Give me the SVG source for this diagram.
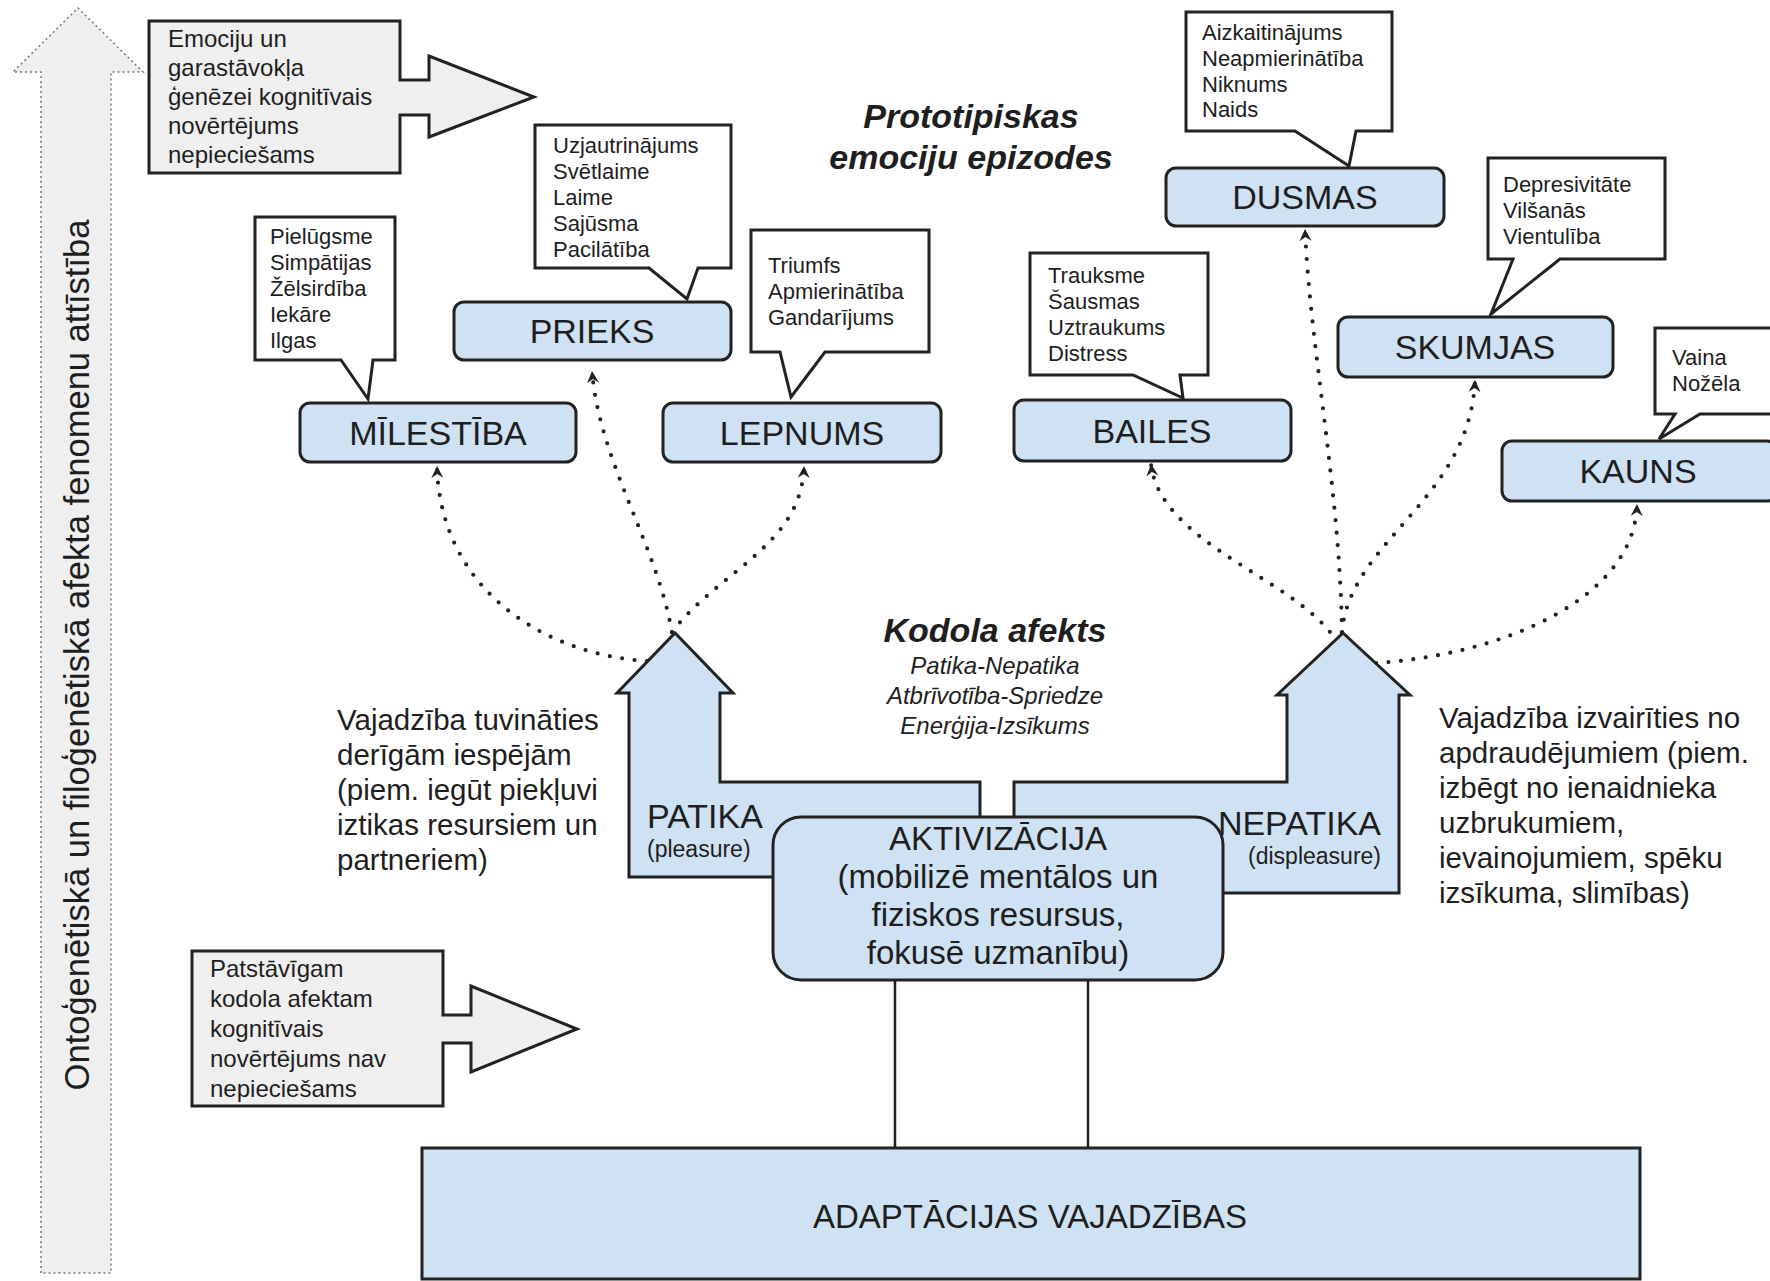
<svg xmlns="http://www.w3.org/2000/svg" width="1770" height="1281" viewBox="0 0 1770 1281">
<style>
text{font-family:"Liberation Sans",Arial,sans-serif;fill:#1e1e1e}
.nb{fill:#cfe2f3;stroke:#222;stroke-width:3}
.lbl{font-size:34px;text-anchor:middle}
.call{fill:#fff;stroke:#222;stroke-width:3}
.ct{font-size:22px}
.gray{fill:#efefef;stroke:#222;stroke-width:3}
.gt{font-size:24px}
.dot{fill:none;stroke:#222;stroke-width:4.2;stroke-linecap:round;stroke-dasharray:0 12.5}
.big{font-size:29.5px}
.bi{font-weight:bold;font-style:italic;font-size:34px;text-anchor:middle}
.it{font-style:italic;font-size:24px;text-anchor:middle}
.ln{stroke:#222;stroke-width:2.5;fill:none}
</style>
<defs>
<marker id="ah" viewBox="0 -7 13 14" refX="12" refY="0" markerWidth="13" markerHeight="14" orient="auto" markerUnits="userSpaceOnUse">
<path d="M0,-6 L12,0 L0,6 L4,0 Z" fill="#222"/>
</marker>
</defs>
<rect x="0" y="0" width="1770" height="1281" fill="#fff"/>

<g id="development-arrow">
<path d="M41 1273 L41 72 L13 72 L78 8 L143 72 L111 72 L111 1273 Z" fill="#efefef" stroke="#777" stroke-width="1.5" stroke-dasharray="2 3"/>
<text transform="translate(89 655) rotate(-90)" font-size="34.5" text-anchor="middle">Ontoģenētiskā un filoģenētiskā afekta fenomenu attīstība</text>
</g>

<g id="note-top">
<path class="gray" d="M149 21 H400 V80 H429 V56 L534 97 L429 137 V115 H400 V173 H149 Z"/>
<text class="gt" x="168" y="47">Emociju un</text>
<text class="gt" x="168" y="76">garastāvokļa</text>
<text class="gt" x="168" y="105">ģenēzei kognitīvais</text>
<text class="gt" x="168" y="134">novērtējums</text>
<text class="gt" x="168" y="163">nepieciešams</text>
</g>

<g id="note-bottom">
<path class="gray" d="M192 951 H443 V1015 H471 V986 L577 1029 L471 1072 V1043 H443 V1106 H192 Z"/>
<text class="gt" x="210" y="977">Patstāvīgam</text>
<text class="gt" x="210" y="1007">kodola afektam</text>
<text class="gt" x="210" y="1037">kognitīvais</text>
<text class="gt" x="210" y="1067">novērtējums nav</text>
<text class="gt" x="210" y="1097">nepieciešams</text>
</g>

<g id="title-prototipiskas">
<text class="bi" x="971" y="128">Prototipiskas</text>
<text class="bi" x="971" y="169">emociju epizodes</text>
</g>

<g id="title-kodola">
<text class="bi" x="995" y="642">Kodola afekts</text>
<text class="it" x="995" y="674">Patika-Nepatika</text>
<text class="it" x="995" y="704">Atbrīvotība-Spriedze</text>
<text class="it" x="995" y="734">Enerģija-Izsīkums</text>
</g>

<g id="callout-milestiba">
<path class="call" d="M255 217 H395 V360 H373 L368 399 L341 360 H255 Z"/>
<text class="ct" x="270" y="244">Pielūgsme</text>
<text class="ct" x="270" y="270">Simpātijas</text>
<text class="ct" x="270" y="296">Žēlsirdība</text>
<text class="ct" x="270" y="322">Iekāre</text>
<text class="ct" x="270" y="348">Ilgas</text>
</g>
<g id="callout-prieks">
<path class="call" d="M535 125 H731 V268 H698 L687 299 L649 268 H535 Z"/>
<text class="ct" x="553" y="153">Uzjautrinājums</text>
<text class="ct" x="553" y="179">Svētlaime</text>
<text class="ct" x="553" y="205">Laime</text>
<text class="ct" x="553" y="231">Sajūsma</text>
<text class="ct" x="553" y="257">Pacilātība</text>
</g>
<g id="callout-lepnums">
<path class="call" d="M751 230 H929 V352 H825 L791 397 L780 352 H751 Z"/>
<text class="ct" x="768" y="273">Triumfs</text>
<text class="ct" x="768" y="299">Apmierinātība</text>
<text class="ct" x="768" y="325">Gandarījums</text>
</g>
<g id="callout-bailes">
<path class="call" d="M1030 253 H1208 V375 H1180 L1183 398 L1133 375 H1030 Z"/>
<text class="ct" x="1048" y="283">Trauksme</text>
<text class="ct" x="1048" y="309">Šausmas</text>
<text class="ct" x="1048" y="335">Uztraukums</text>
<text class="ct" x="1048" y="361">Distress</text>
</g>
<g id="callout-dusmas">
<path class="call" d="M1186 12 H1392 V131 H1356 L1349 166 L1295 131 H1186 Z"/>
<text class="ct" x="1202" y="40">Aizkaitinājums</text>
<text class="ct" x="1202" y="66">Neapmierinātība</text>
<text class="ct" x="1202" y="92">Niknums</text>
<text class="ct" x="1202" y="117">Naids</text>
</g>
<g id="callout-skumjas">
<path class="call" d="M1488 158 H1665 V259 H1560 L1491 314 L1513 259 H1488 Z"/>
<text class="ct" x="1503" y="192">Depresivitāte</text>
<text class="ct" x="1503" y="218">Vilšanās</text>
<text class="ct" x="1503" y="244">Vientulība</text>
</g>
<g id="callout-kauns">
<path class="call" d="M1655 328 H1790 V414 H1700 L1659 439 L1675 414 H1655 Z"/>
<text class="ct" x="1672" y="365">Vaina</text>
<text class="ct" x="1672" y="391">Nožēla</text>
</g>

<g id="node-milestiba"><rect class="nb" x="300" y="403" width="276" height="59" rx="10"/><text class="lbl" x="438" y="445">MĪLESTĪBA</text></g>
<g id="node-prieks"><rect class="nb" x="454" y="302" width="277" height="58" rx="10"/><text class="lbl" x="592" y="343">PRIEKS</text></g>
<g id="node-lepnums"><rect class="nb" x="663" y="403" width="278" height="59" rx="10"/><text class="lbl" x="802" y="445">LEPNUMS</text></g>
<g id="node-bailes"><rect class="nb" x="1014" y="400" width="277" height="61" rx="10"/><text class="lbl" x="1152" y="443">BAILES</text></g>
<g id="node-dusmas"><rect class="nb" x="1166" y="168" width="278" height="58" rx="10"/><text class="lbl" x="1305" y="209">DUSMAS</text></g>
<g id="node-skumjas"><rect class="nb" x="1338" y="317" width="275" height="60" rx="10"/><text class="lbl" x="1475" y="359">SKUMJAS</text></g>
<g id="node-kauns"><rect class="nb" x="1502" y="441" width="275" height="60" rx="10"/><text class="lbl" x="1638" y="483">KAUNS</text></g>

<g id="connectors">
<path class="dot" marker-end="url(#ah)" d="M647 661 C545 655 440 590 437 466"/>
<path class="dot" marker-end="url(#ah)" d="M675 657 C668 560 600 470 592 371"/>
<path class="dot" marker-end="url(#ah)" d="M672 632 C720 570 802 545 804 466"/>
<path class="dot" marker-end="url(#ah)" d="M1337 642 C1300 580 1160 545 1151 464"/>
<path class="dot" marker-end="url(#ah)" d="M1342 645 C1342 500 1310 350 1305 229"/>
<path class="dot" marker-end="url(#ah)" d="M1342 632 C1350 540 1470 500 1475 380"/>
<path class="dot" marker-end="url(#ah)" d="M1376 663 C1500 655 1635 600 1637 504"/>
<line class="ln" x1="895" y1="980" x2="895" y2="1148"/>
<line class="ln" x1="1088" y1="980" x2="1088" y2="1148"/>
</g>

<g id="node-patika">
<path class="nb" d="M629 877 V693 H617 L675 633 L733 693 H720 V782 H980 V877 Z" stroke-linejoin="miter"/>
<text x="647" y="828" font-size="34">PATIKA</text>
<text x="647" y="857" font-size="23">(pleasure)</text>
</g>
<g id="node-nepatika">
<path class="nb" d="M1399 893 V695 H1410 L1343 633 L1277 695 H1287 V782 H1014 V893 Z" stroke-linejoin="miter"/>
<text x="1381" y="835" font-size="34" text-anchor="end">NEPATIKA</text>
<text x="1381" y="864" font-size="23" text-anchor="end">(displeasure)</text>
</g>

<g id="node-aktivizacija">
<rect class="nb" x="773" y="817" width="450" height="163" rx="28"/>
<text x="998" y="850" font-size="33" text-anchor="middle">AKTIVIZĀCIJA</text>
<text x="998" y="888" font-size="33" text-anchor="middle">(mobilizē mentālos un</text>
<text x="998" y="926" font-size="33" text-anchor="middle">fiziskos resursus,</text>
<text x="998" y="964" font-size="33" text-anchor="middle">fokusē uzmanību)</text>
</g>

<g id="text-left">
<text class="big" x="337" y="730">Vajadzība tuvināties</text>
<text class="big" x="337" y="765">derīgām iespējām</text>
<text class="big" x="337" y="800">(piem. iegūt piekļuvi</text>
<text class="big" x="337" y="835">iztikas resursiem un</text>
<text class="big" x="337" y="870">partneriem)</text>
</g>
<g id="text-right">
<text class="big" x="1439" y="728">Vajadzība izvairīties no</text>
<text class="big" x="1439" y="763">apdraudējumiem (piem.</text>
<text class="big" x="1439" y="798">izbēgt no ienaidnieka</text>
<text class="big" x="1439" y="833">uzbrukumiem,</text>
<text class="big" x="1439" y="868">ievainojumiem, spēku</text>
<text class="big" x="1439" y="903">izsīkuma, slimības)</text>
</g>

<g id="node-adaptacijas">
<rect class="nb" x="422" y="1148" width="1218" height="131"/>
<text x="1030" y="1228" font-size="33" text-anchor="middle">ADAPTĀCIJAS VAJADZĪBAS</text>
</g>
</svg>
